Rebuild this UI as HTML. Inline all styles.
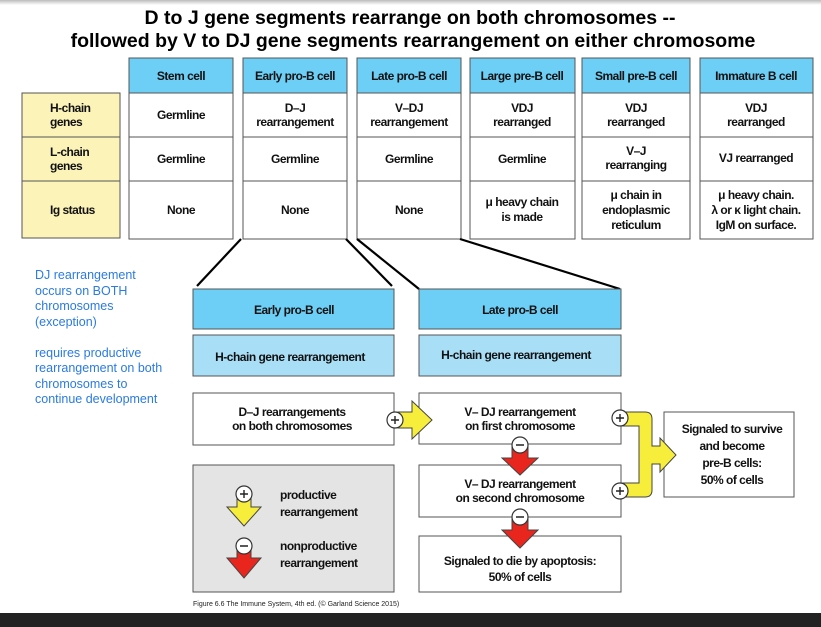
<!DOCTYPE html>
<html><head><meta charset="utf-8"><style>
html,body{margin:0;padding:0;background:#fff;width:821px;height:627px;overflow:hidden}
svg{display:block}
.b{font-family:"Liberation Sans",sans-serif;font-weight:bold;font-size:12px;letter-spacing:-0.5px;fill:#111}
.t{font-family:"Liberation Sans",sans-serif;font-weight:bold;font-size:19.5px;fill:#000}
.bl{font-family:"Liberation Sans",sans-serif;font-size:12.5px;fill:#2b7be0}
</style></head><body>
<svg width="821" height="627" viewBox="0 0 821 627" xmlns="http://www.w3.org/2000/svg">
<defs><linearGradient id="g" x1="0" y1="0" x2="0" y2="1"><stop offset="0" stop-color="#bbb"/><stop offset="1" stop-color="#fff"/></linearGradient></defs>
<rect x="0" y="0" width="821" height="5" fill="url(#g)"/>
<text class="t" x="410" y="24" text-anchor="middle">D to J gene segments rearrange on both chromosomes --</text>
<text class="t" x="413" y="47" text-anchor="middle">followed by V to DJ gene segments rearrangement on either chromosome</text>

<!-- left label column -->
<g stroke="#555" stroke-width="1">
<rect x="22" y="93" width="98" height="145" fill="#fbf3b8"/>
<line x1="22" y1="137" x2="120" y2="137"/><line x1="22" y1="181" x2="120" y2="181"/>
</g>
<text class="b" x="50" y="112">H-chain</text><text class="b" x="50" y="126">genes</text>
<text class="b" x="50" y="156">L-chain</text><text class="b" x="50" y="170">genes</text>
<text class="b" x="50" y="214">Ig status</text>

<!-- columns -->
<g stroke="#555" stroke-width="1">
<rect x="129" y="58" width="104" height="35" fill="#6dcff5"/><rect x="129" y="93" width="104" height="146" fill="#fff"/>
<rect x="243" y="58" width="104" height="35" fill="#6dcff5"/><rect x="243" y="93" width="104" height="146" fill="#fff"/>
<rect x="357" y="58" width="104" height="35" fill="#6dcff5"/><rect x="357" y="93" width="104" height="146" fill="#fff"/>
<rect x="470" y="58" width="105" height="35" fill="#6dcff5"/><rect x="470" y="93" width="105" height="146" fill="#fff"/>
<rect x="582" y="58" width="108" height="35" fill="#6dcff5"/><rect x="582" y="93" width="108" height="146" fill="#fff"/>
<rect x="700" y="58" width="113" height="35" fill="#6dcff5"/><rect x="700" y="93" width="113" height="146" fill="#fff"/>
<path d="M129 137H233M243 137H347M357 137H461M470 137H575M582 137H690M700 137H813M129 181H233M243 181H347M357 181H461M470 181H575M582 181H690M700 181H813" fill="none"/>
</g>
<g class="b" text-anchor="middle">
<text x="181" y="80" class="b">Stem cell</text>
<text x="295" y="80" class="b">Early pro-B cell</text>
<text x="409" y="80" class="b">Late pro-B cell</text>
<text x="522" y="80" class="b">Large pre-B cell</text>
<text x="636" y="80" class="b">Small pre-B cell</text>
<text x="756" y="80" class="b">Immature B cell</text>
<text x="181" y="119" class="b">Germline</text>
<text x="295" y="112" class="b">D–J</text><text x="295" y="126" class="b">rearrangement</text>
<text x="409" y="112" class="b">V–DJ</text><text x="409" y="126" class="b">rearrangement</text>
<text x="522" y="112" class="b">VDJ</text><text x="522" y="126" class="b">rearranged</text>
<text x="636" y="112" class="b">VDJ</text><text x="636" y="126" class="b">rearranged</text>
<text x="756" y="112" class="b">VDJ</text><text x="756" y="126" class="b">rearranged</text>
<text x="181" y="163" class="b">Germline</text>
<text x="295" y="163" class="b">Germline</text>
<text x="409" y="163" class="b">Germline</text>
<text x="522" y="163" class="b">Germline</text>
<text x="636" y="155" class="b">V–J</text><text x="636" y="169" class="b">rearranging</text>
<text x="756" y="162" class="b">VJ rearranged</text>
<text x="181" y="214" class="b">None</text>
<text x="295" y="214" class="b">None</text>
<text x="409" y="214" class="b">None</text>
<text x="522" y="206" class="b">μ heavy chain</text><text x="522" y="221" class="b">is made</text>
<text x="636" y="199" class="b">μ chain in</text><text x="636" y="214" class="b">endoplasmic</text><text x="636" y="229" class="b">reticulum</text>
<text x="756" y="199" class="b">μ heavy chain.</text><text x="756" y="214" class="b">λ or κ light chain.</text><text x="756" y="229" class="b">IgM on surface.</text>
</g>

<!-- zoom lines -->
<g stroke="#000" stroke-width="2.2">
<line x1="241" y1="239" x2="197" y2="286"/>
<line x1="346" y1="239" x2="392" y2="286"/>
<line x1="357" y1="239" x2="419" y2="289"/>
<line x1="460" y1="239" x2="620" y2="289"/>
</g>

<!-- blue notes -->
<g class="bl">
<text x="35" y="279">DJ rearrangement</text>
<text x="35" y="295">occurs on BOTH</text>
<text x="35" y="310">chromosomes</text>
<text x="35" y="326">(exception)</text>
<text x="35" y="357">requires productive</text>
<text x="35" y="372">rearrangement on both</text>
<text x="35" y="388">chromosomes to</text>
<text x="35" y="403">continue development</text>
</g>

<!-- stage boxes -->
<g stroke="#555" stroke-width="1">
<rect x="193" y="289" width="201" height="40" fill="#6dcff5"/>
<rect x="419" y="289" width="202" height="40" fill="#6dcff5"/>
<rect x="193" y="335" width="201" height="41" fill="#a8def6"/>
<rect x="419" y="335" width="202" height="41" fill="#a8def6"/>
<rect x="193" y="393" width="201" height="52" fill="#fff"/>
<rect x="193" y="465" width="201" height="127" fill="#e4e4e4"/>
<rect x="419" y="393" width="202" height="51" fill="#fff"/>
<rect x="419" y="465" width="202" height="52" fill="#fff"/>
<rect x="419" y="536" width="202" height="56" fill="#fff"/>
<rect x="664" y="412" width="130" height="85" fill="#fff"/>
</g>
<g text-anchor="middle">
<text x="294" y="314" class="b">Early pro-B cell</text>
<text x="520" y="314" class="b">Late pro-B cell</text>
<text x="290" y="361" class="b">H-chain gene rearrangement</text>
<text x="516" y="359" class="b">H-chain gene rearrangement</text>
<text x="292" y="416" class="b">D–J rearrangements</text><text x="292" y="430" class="b">on both chromosomes</text>
<text x="520" y="416" class="b">V– DJ rearrangement</text><text x="520" y="430" class="b">on first chromosome</text>
<text x="520" y="488" class="b">V– DJ rearrangement</text><text x="520" y="502" class="b">on second chromosome</text>
<text x="520" y="565" class="b">Signaled to die by apoptosis:</text><text x="520" y="581" class="b">50% of cells</text>
<text x="732" y="433" class="b">Signaled to survive</text><text x="732" y="450" class="b">and become</text>
<text x="732" y="467" class="b">pre-B cells:</text><text x="732" y="484" class="b">50% of cells</text>
</g>
<text x="280" y="499" class="b">productive</text><text x="280" y="516" class="b">rearrangement</text>
<text x="280" y="550" class="b">nonproductive</text><text x="280" y="567" class="b">rearrangement</text>

<!-- arrows -->
<g stroke="#444" stroke-width="1">
<path d="M398 412H412V401L432 420L412 439V428H398Z" fill="#f7ee3c"/>
<path d="M620 412H645Q652 412 652 419V446H660V438L676 455L660 472V464H652V490Q652 497 645 497H620V483H639V426H620Z" fill="#f7ee3c"/>
<path d="M512 447H528V458H538L520 475L502 458H512Z" fill="#e8261d"/>
<path d="M512 519H528V530H538L520 548L502 530H512Z" fill="#e8261d"/>
<path d="M237 495H251V507H261L244 526L227 507H237Z" fill="#f7ee3c"/>
<path d="M237 546H251V558H261L244 578L227 558H237Z" fill="#e8261d"/>
</g>
<g stroke="#333" stroke-width="1.2" fill="#fff">
<circle cx="395" cy="420" r="8"/><circle cx="620" cy="418" r="8"/><circle cx="620" cy="491" r="8"/>
<circle cx="520" cy="445" r="8"/><circle cx="520" cy="517" r="8"/>
<circle cx="244" cy="494" r="8"/><circle cx="244" cy="546" r="8"/>
</g>
<g stroke="#222" stroke-width="1.4">
<path d="M391 420h8M395 416v8M616 418h8M620 414v8M616 491h8M620 487v8M516 445h8M516 517h8M240 494h8M244 490v8M240 546h8"/>
</g>
<text x="193" y="606" font-family="Liberation Sans,sans-serif" font-size="7" fill="#222">Figure 6.6 The Immune System, 4th ed. (© Garland Science 2015)</text>
<rect x="0" y="613" width="821" height="14" fill="#222"/>
</svg>
</body></html>
